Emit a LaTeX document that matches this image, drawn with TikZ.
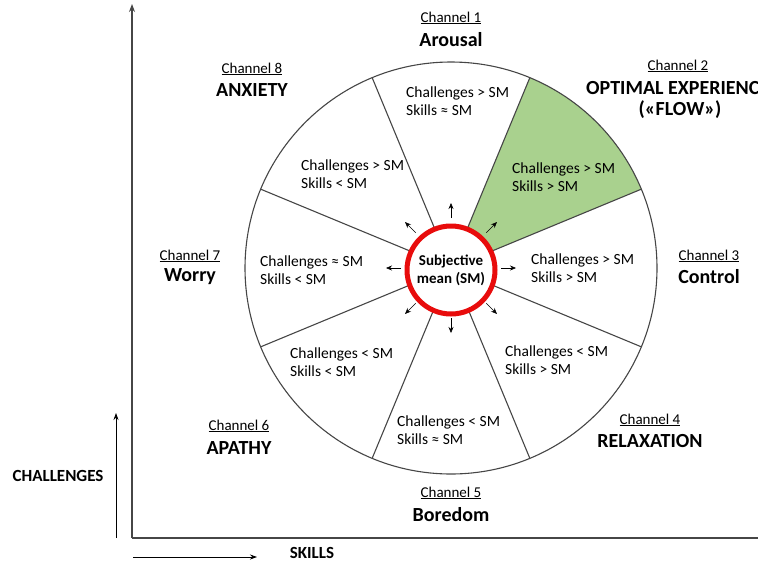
\documentclass[tikz,border=0pt]{standalone}
\usepackage{fontspec}
\setmainfont{Carlito}
\usetikzlibrary{arrows.meta}
\definecolor{flowgreen}{RGB}{169,209,142}
\definecolor{rimgray}{RGB}{70,70,70}
\definecolor{smred}{RGB}{232,12,12}
\begin{document}
\begin{tikzpicture}[x=1pt,y=-1pt,
  sector/.style={anchor=west,align=left,font=\fontsize{15.5}{18}\selectfont,inner sep=0pt},
  chan/.style={font=\fontsize{15}{17}\selectfont,inner sep=0pt},
  mood/.style={font=\bfseries\fontsize{20}{22}\selectfont,inner sep=0pt},
  axis/.style={line width=1.1pt,draw=rimgray},
  tick/.style={-{Stealth[length=6pt,width=5pt]},line width=0.6pt,black}]
\useasboundingbox (0,0) rectangle (758,563);

% wheel
\begin{scope}[shift={(451,268)}]
  \fill[flowgreen] (-22.5:44) -- (-22.5:206) arc[start angle=-22.5,end angle=-67.5,radius=206]
    -- (-67.5:44) arc[start angle=-67.5,end angle=-22.5,radius=44] -- cycle;
  \draw[rimgray,line width=1.1pt] (0,0) circle[radius=206];
  \foreach \a in {22.5,67.5,...,337.5}
    \draw[rimgray,line width=1.1pt] (\a:44) -- (\a:206);
  \node[circle,draw=smred,fill=white,line width=5pt,minimum size=88pt,inner sep=0pt,
        align=center,font=\bfseries\fontsize{15}{18}\selectfont] (sm) at (0,2) {Subjective\\mean (SM)};
  \foreach \a in {0,45,...,315}
    \draw[tick] (\a:50) -- (\a:65);
\end{scope}

% sector contents
\node[sector] (s1) at (406,101) {Challenges > SM\\Skills ≈ SM};
\node[sector] (s2) at (512,177) {Challenges > SM\\Skills > SM};
\node[sector] (s3) at (531,268) {Challenges > SM\\Skills > SM};
\node[sector] (s4) at (505,360) {Challenges < SM\\Skills > SM};
\node[sector] (s5) at (397,430) {Challenges < SM\\Skills ≈ SM};
\node[sector] (s6) at (290,362) {Challenges < SM\\Skills < SM};
\node[sector] (s7) at (260,270) {Challenges ≈ SM\\Skills < SM};
\node[sector] (s8) at (301,174) {Challenges > SM\\Skills < SM};

% channel names
\node[chan] (c1) at (451,18) {\underline{Channel 1}};
\node[mood] (m1) at (451,40) {Arousal};
\node[chan] (c2) at (678,66) {\underline{Channel 2}};
\node[mood,anchor=west] (m2) at (586,88) {OPTIMAL EXPERIENCE};
\node[mood] (m2b) at (680,110) {(«FLOW»)};
\node[chan] (c3) at (709,256) {\underline{Channel 3}};
\node[mood] (m3) at (709,277) {Control};
\node[chan] (c4) at (650,420) {\underline{Channel 4}};
\node[mood] (m4) at (650,441) {RELAXATION};
\node[chan] (c5) at (451,493) {\underline{Channel 5}};
\node[mood] (m5) at (451,515) {Boredom};
\node[chan] (c6) at (239,426) {\underline{Channel 6}};
\node[mood] (m6) at (239,448) {APATHY};
\node[chan] (c7) at (190,256) {\underline{Channel 7}};
\node[mood] (m7) at (190,277) {Worry};
\node[chan] (c8) at (252,69) {\underline{Channel 8}};
\node[mood] (m8) at (252,90) {ANXIETY};

% axes
\coordinate (o) at (132,538);
\coordinate (ytop) at (132,4);
\coordinate (xend) at (758,538);
\draw[axis,-{Stealth[length=8pt,width=6pt]}] (o) -- (ytop);
\draw[axis] (o) -- (xend);

\coordinate (ca0) at (116,538);
\coordinate (ca1) at (116,413);
\draw[line width=0.8pt,-{Stealth[length=7pt,width=5pt]}] (ca0) -- (ca1);
\node[mood,font=\bfseries\fontsize{17}{19}\selectfont] (chl) at (58,476) {CHALLENGES};

\coordinate (sa0) at (133,557);
\coordinate (sa1) at (257,557);
\draw[line width=0.8pt,-{Stealth[length=7pt,width=5pt]}] (sa0) -- (sa1);
\node[mood,font=\bfseries\fontsize{17}{19}\selectfont] (skl) at (312,553) {SKILLS};
\end{tikzpicture}
\end{document}
